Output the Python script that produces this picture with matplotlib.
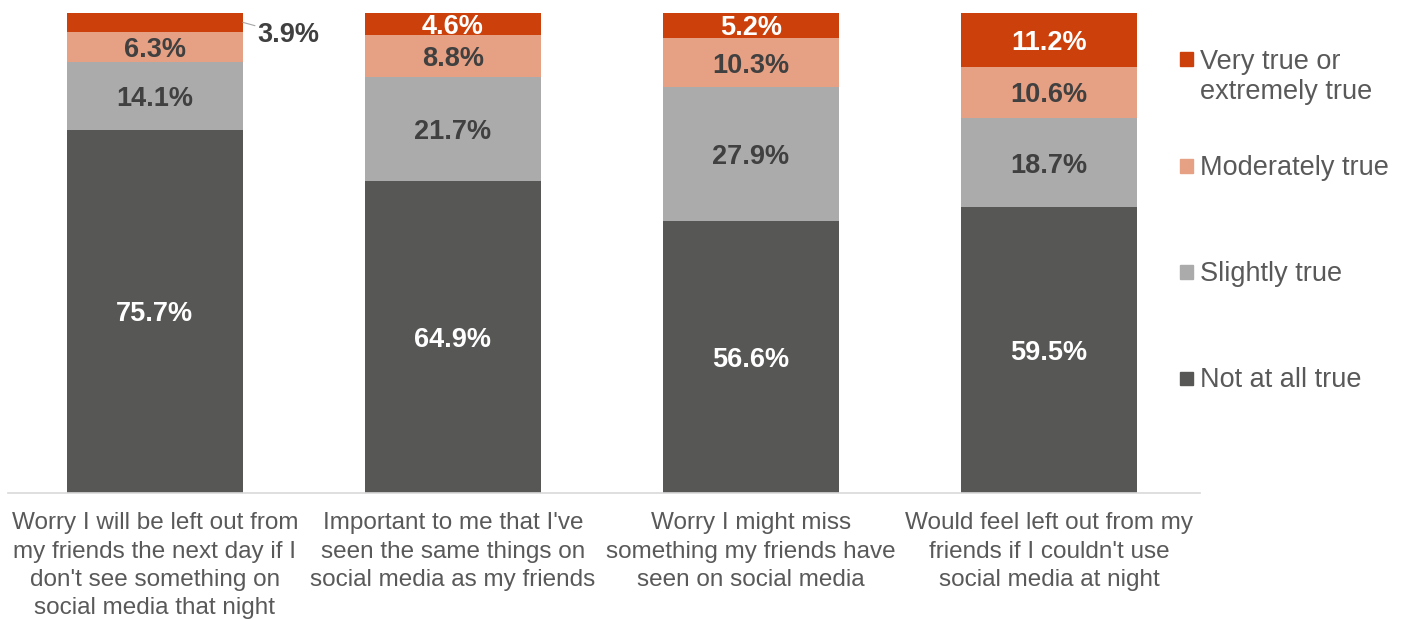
import matplotlib.pyplot as plt
from matplotlib.patches import Rectangle
import numpy as np

plt.rcParams['font.family'] = ['Liberation Sans', 'DejaVu Sans']

categories = [
    "Worry I will be left out from\nmy friends the next day if I\ndon't see something on\nsocial media that night",
    "Important to me that I've\nseen the same things on\nsocial media as my friends",
    "Worry I might miss\nsomething my friends have\nseen on social media",
    "Would feel left out from my\nfriends if I couldn't use\nsocial media at night",
]
series = ["Not at all true", "Slightly true", "Moderately true", "Very true or\nextremely true"]
not_at_all = [75.7, 64.9, 56.6, 59.5]
slightly = [14.1, 21.7, 27.9, 18.7]
moderately = [6.3, 8.8, 10.3, 10.6]
very = [3.9, 4.6, 5.2, 11.2]

colors = ["#575756", "#ababab", "#e6a083", "#cc410b"]
text_colors = ["white", "#404040", "#404040", "white"]

W, H = 1403, 619
fig = plt.figure(figsize=(W / 100, H / 100), dpi=100)
ax = fig.add_axes([0.0057, 0.2036, 0.8497, 0.7754])

x = np.arange(len(categories))
width = 0.59
bottom = np.zeros(len(categories))
for vals, col, tcol, name in zip([not_at_all, slightly, moderately, very], colors, text_colors, series):
    vals = np.array(vals)
    ax.bar(x, vals, width, bottom=bottom, color=col, label=name)
    for xi, v, b in zip(x, vals, bottom):
        if v < 4.5:
            # small segment: label outside with a leader line
            ax.annotate(f"{v:.1f}%", xy=(xi + width / 2, b + v / 2),
                        xytext=(xi + width / 2 + 0.05, b + v / 2 - 2),
                        textcoords='data', ha='left', va='center_baseline',
                        fontsize=19.5, fontweight='bold', color="#404040",
                        arrowprops=dict(arrowstyle='-', color='#a6a6a6', lw=0.8,
                                        shrinkA=0, shrinkB=0))
        else:
            ax.text(xi, b + v / 2, f"{v:.1f}%", ha='center', va='center_baseline',
                    fontsize=19.5, fontweight='bold', color=tcol)
    bottom += vals

ax.set_xlim(-0.493, 3.507)
ax.set_ylim(0, 100)
for s in ['top', 'right', 'left']:
    ax.spines[s].set_visible(False)
ax.spines['bottom'].set_color('#d9d9d9')
ax.spines['bottom'].set_linewidth(1.2)
ax.set_yticks([])
ax.set_xticks(x)
ax.set_xticklabels(categories, fontsize=17.5, color='#595959', linespacing=1.37)
ax.tick_params(axis='x', length=0, pad=14)

# legend, drawn by hand so the entries sit where the original has them
leg_square_y = [378, 272, 166, 59]   # pixel centre of each square, from top
leg_text_y = [387, 281, 175, 77]
for i, (name, col) in enumerate(zip(series, colors)):
    sq = 13
    fig.patches.append(Rectangle((1180 / W, 1 - (leg_square_y[i] + sq / 2) / H),
                                 sq / W, sq / H, transform=fig.transFigure,
                                 color=col))
    fig.text(1200 / W, 1 - leg_text_y[i] / H, name, fontsize=19.5,
             color='#595959', ha='left',
             va='center' if '\n' in name else 'baseline', linespacing=1.16)

fig.savefig("out.png", dpi=100)
